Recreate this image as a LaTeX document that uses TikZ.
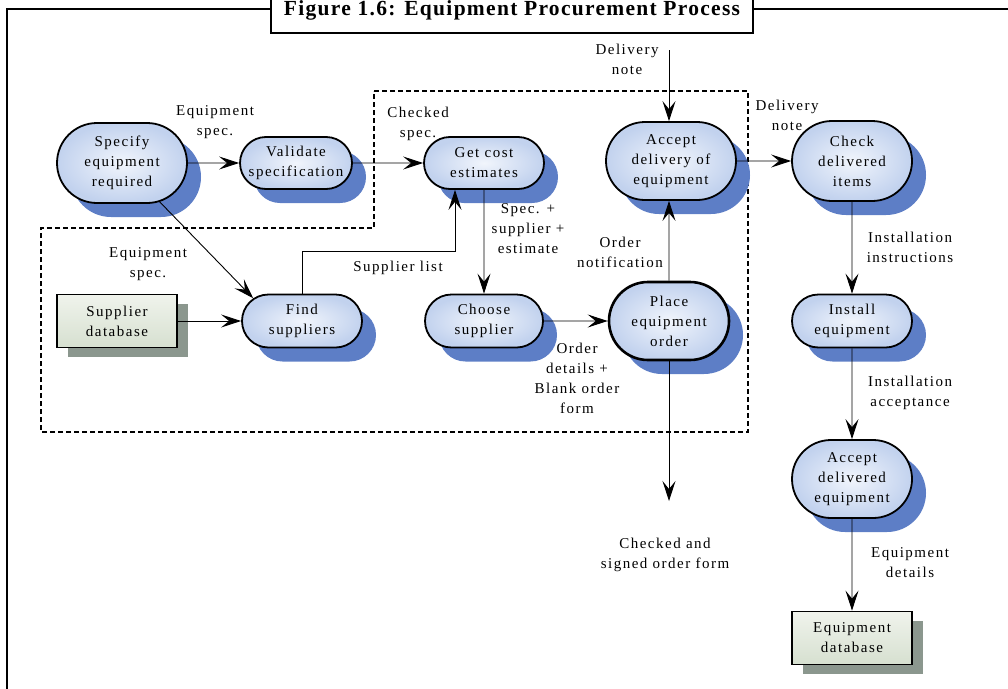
\documentclass[tikz,border=0pt]{standalone}
\usepackage{fontspec}
\setmainfont{Liberation Serif}
\newfontfamily\diagfont[LetterSpace=10]{Liberation Serif}
\newfontfamily\titlefont[LetterSpace=6]{Liberation Serif}
\usetikzlibrary{shapes.misc,shadows,arrows.meta}

\definecolor{procin}{HTML}{F1F5FC}
\definecolor{procout}{HTML}{C2D2EE}
\definecolor{procshadow}{HTML}{5D7EC6}
\definecolor{dbin}{HTML}{F0F3EC}
\definecolor{dbout}{HTML}{D6E0D0}
\definecolor{dbshadow}{HTML}{8B978E}

\begin{document}
\begin{tikzpicture}[x=1pt,y=-1pt,
  txt/.style={font=\diagfont\fontsize{15}{20}\selectfont, align=center, inner sep=0pt},
  proc/.style={txt, rounded rectangle, draw, line width=1.8pt,
    inner color=procin, outer color=procout,
    drop shadow={shadow xshift=14pt, shadow yshift=-14pt, fill=procshadow, opacity=1, draw=none}},
  store/.style={txt, rectangle, draw, line width=1.8pt,
    top color=dbin, bottom color=dbout,
    minimum width=120pt, minimum height=53pt,
    drop shadow={shadow xshift=11pt, shadow yshift=-9pt, fill=dbshadow, opacity=1, draw=none}},
  flow/.style={line width=0.9pt, -{Stealth[length=20pt,width=13pt,inset=8pt]}},
  lbl/.style={txt}
]
\useasboundingbox (0,0) rectangle (1008,688);

% page frame and title box
\draw[line width=2pt] (7,700) -- (7,9) -- (1020,9);
\node[draw, line width=2.6pt, fill=white, minimum width=482pt, minimum height=48pt,
      inner sep=0pt] (titlebox) at (512,9) {};
\node[font=\titlefont\bfseries\fontsize{21.5}{24}\selectfont, anchor=base, inner sep=0pt]
      (title) at (512,15) {Figure 1.6: Equipment Procurement Process};

% system boundary (dashed)
\draw[dashed, line width=1.6pt, dash pattern=on 5pt off 3pt]
  (374,91) -- (748,91) -- (748,432) -- (41,432) -- (41,228) -- (374,228) -- cycle;

% processes
\node[proc, minimum width=130pt, minimum height=80pt] (spec) at (122,163)
  {Specify\\equipment\\required};
\node[proc, minimum width=112pt, minimum height=52pt] (valid) at (296,163)
  {Validate\\specification};
\node[proc, minimum width=120pt, minimum height=52pt] (cost) at (484,163)
  {Get cost\\estimates};
\node[proc, minimum width=130pt, minimum height=78pt] (accept) at (671,161)
  {Accept\\delivery of\\equipment};
\node[proc, minimum width=120pt, minimum height=80pt] (check) at (852,161)
  {Check\\delivered\\items};
\node[proc, minimum width=120pt, minimum height=53pt] (find) at (302,321)
  {Find\\suppliers};
\node[proc, minimum width=118pt, minimum height=53pt] (choose) at (484,321)
  {Choose\\supplier};
\node[proc, line width=2.6pt, minimum width=120pt, minimum height=78pt] (place) at (669,321)
  {Place\\equipment\\order};
\node[proc, minimum width=120pt, minimum height=53pt] (install) at (852,321)
  {Install\\equipment};
\node[proc, minimum width=120pt, minimum height=78pt] (acceptd) at (852,479)
  {Accept\\delivered\\equipment};

% data stores
\node[store] (supdb) at (117,321) {Supplier\\database};
\node[store] (eqdb) at (852,638) {Equipment\\database};

% free ends
\coordinate (delivin) at (669,50);
\coordinate (signed) at (669,501);

% connectors
\draw[flow] (spec) -- (valid);
\draw[flow] (valid) -- (cost);
\draw[flow] (spec) -- (find.155);
\draw[flow] (supdb) -- (find);
\draw[flow] (find.north) -- ++(0,-42) -| ([xshift=-29pt]cost.south);
\draw[flow] (cost) -- (choose);
\draw[flow] (choose) -- (place);
\draw[flow] (place) -- (place |- accept.south);
\draw[flow] (delivin) -- (delivin |- accept.north);
\draw[flow] (accept) -- (check);
\draw[flow] (check) -- (install);
\draw[flow] (install) -- (acceptd);
\draw[flow] (acceptd) -- (eqdb);
\draw[flow] (place) -- (signed);

% flow labels
\node[lbl] (l1) at (215,122) {Equipment\\spec.};
\node[lbl] (l2) at (418,124) {Checked\\spec.};
\node[lbl] (l3) at (148,264) {Equipment\\spec.};
\node[lbl] (l4) at (398,268) {Supplier list};
\node[lbl] (l5) at (528,229) {Spec. +\\supplier +\\estimate};
\node[lbl] (l6) at (577,378) {Order\\details +\\Blank order\\form};
\node[lbl] (l7) at (620,252) {Order\\notification};
\node[lbl] (l8) at (627,59) {Delivery\\note};
\node[lbl] (l9) at (787,115) {Delivery\\note};
\node[lbl] (l10) at (910,247) {Installation\\instructions};
\node[lbl] (l11) at (910,393) {Installation\\acceptance};
\node[lbl] (l12) at (910,563) {Equipment\\details};
\node[lbl] (l13) at (665,555) {Checked and\\signed order form};
\end{tikzpicture}
\end{document}
